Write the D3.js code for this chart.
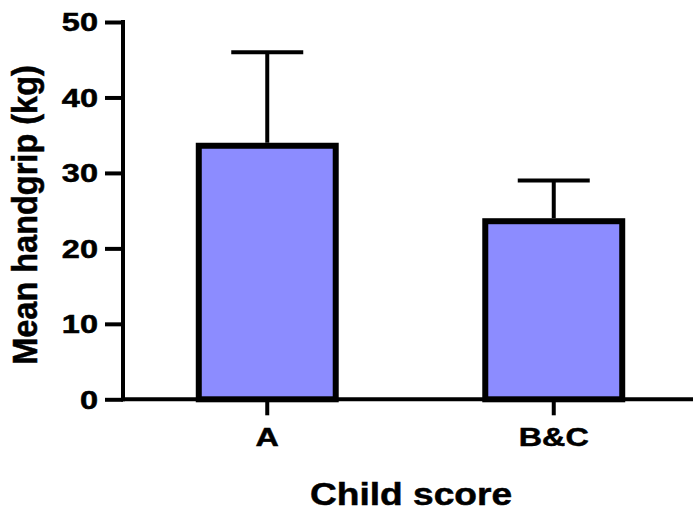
<!DOCTYPE html>
<html>
<head>
<meta charset="utf-8">
<script src="https://cdn.jsdelivr.net/npm/d3@7"></script>
<style>
  html, body { margin: 0; padding: 0; background: #fff; }
  svg { display: block; }
  text { font-family: "Liberation Sans", Arial, Helvetica, sans-serif; font-weight: bold; fill: #000; stroke: #000; stroke-width: 0.5px; }
</style>
</head>
<body>
<svg id="chart" width="693" height="511"></svg>
<script>
// Handgrip strength by child score: mean with SD error bars
const categories = ["A", "B&C"];
const means = [33.6, 23.6];
const sds = [12.4, 5.4];
const yTicks = [0, 10, 20, 30, 40, 50];
const xTitle = "Child score";
const yTitle = "Mean handgrip (kg)";

const svg = d3.select("#chart");

const x = d3.scaleBand().domain(categories).range([124, 697]).paddingInner(0).paddingOuter(0);
const y = d3.scaleLinear().domain([0, 50]).range([399.3, 22]);

const barW = x.bandwidth() * 0.478;
const capW = 72;

// Bars
const bars = svg.append("g");
categories.forEach((c, i) => {
  const cx = x(c) + x.bandwidth() / 2;
  bars.append("rect")
    .attr("x", cx - barW / 2)
    .attr("y", y(means[i]))
    .attr("width", barW)
    .attr("height", y(0) - y(means[i]))
    .attr("fill", "#8c8cff")
    .attr("stroke", "#000")
    .attr("stroke-width", 6);
  // Upper error bar
  bars.append("line")
    .attr("x1", cx).attr("x2", cx)
    .attr("y1", y(means[i]) - 3).attr("y2", y(means[i] + sds[i]))
    .attr("stroke", "#000").attr("stroke-width", 4);
  bars.append("line")
    .attr("x1", cx - capW / 2).attr("x2", cx + capW / 2)
    .attr("y1", y(means[i] + sds[i])).attr("y2", y(means[i] + sds[i]))
    .attr("stroke", "#000").attr("stroke-width", 4);
});

// Y axis
const yAxis = svg.append("g")
  .attr("transform", "translate(123,0)")
  .call(d3.axisLeft(y).tickValues(yTicks).tickSize(18).tickSizeOuter(0).tickPadding(0));
yAxis.select(".domain").attr("stroke-width", 4).attr("d", `M0,${y(50) - 2}V${y(0) + 2}`);
yAxis.selectAll(".tick line").attr("stroke-width", 4);
yAxis.selectAll(".tick text")
  .attr("font-size", 25)
  .attr("dy", "0.35em")
  .attr("x", -25 / 1.3)
  .attr("transform", "scale(1.3,1)")
  .attr("text-anchor", "end");

// X axis
const xAxis = svg.append("g")
  .attr("transform", `translate(0,${y(0)})`)
  .call(d3.axisBottom(x).tickSize(16).tickSizeOuter(0).tickPadding(0));
xAxis.select(".domain").attr("stroke-width", 4).attr("d", "M121,0H693");
xAxis.selectAll(".tick line").attr("stroke-width", 4);
xAxis.selectAll(".tick text")
  .attr("font-size", 26.5)
  .attr("y", 46.7)
  .attr("dy", 0)
  .attr("transform", "scale(1.22,1)");

// Axis titles
svg.append("text")
  .attr("transform", "translate(411,505) scale(1.16,1)")
  .attr("text-anchor", "middle")
  .attr("font-size", 32)
  .text(xTitle);

svg.append("text")
  .attr("transform", "translate(37,215) scale(1.08,1) rotate(-90)")
  .attr("text-anchor", "middle")
  .attr("font-size", 32.5)
  .text(yTitle);
</script>
</body>
</html>
